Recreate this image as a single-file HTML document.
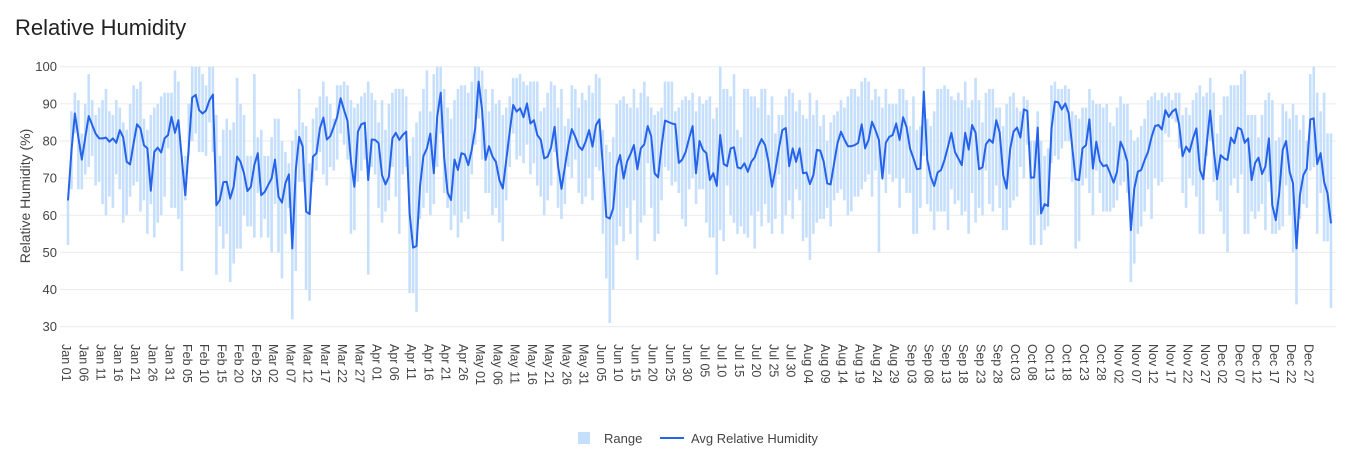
<!DOCTYPE html>
<html><head><meta charset="utf-8">
<style>
body{margin:0;background:#fff;font-family:"Liberation Sans",sans-serif;}
svg text{font-family:"Liberation Sans","DejaVu Sans",sans-serif;}
</style></head>
<body>
<svg id="chart" width="1366" height="461" xmlns="http://www.w3.org/2000/svg">
<text x="15" y="35" font-size="22" fill="#222">Relative Humidity</text>
<text transform="translate(30,196) rotate(-90)" text-anchor="middle" font-size="14" fill="#444">Relative Humidity (%)</text>
<g id="grid"></g><g id="bars"></g><g id="line"></g><g id="xticks"></g><g id="yticks"></g>
<g>
<rect x="578" y="432" width="12" height="12" fill="#c6dffc"/>
<text x="604" y="443" font-size="13" fill="#444">Range</text>
<line x1="660" y1="438" x2="684" y2="438" stroke="#2563eb" stroke-width="2"/>
<text x="691" y="443" font-size="13" fill="#444">Avg Relative Humidity</text>
</g>
</svg>
<script>
const yTicks=[30,40,50,60,70,80,90,100];
const avgValues=[64,77.5,87.4,81,75,81,86.7,84.3,82,80.7,80.7,80.9,79.8,80.7,79.5,82.9,81,74.4,73.7,79.4,84.5,83.4,78.9,78,66.6,77.1,78.2,76.9,80.7,81.6,86.5,82.2,85.6,74.9,65.4,78.5,91.7,92.4,88.3,87.4,88.2,91,92.5,62.7,64.1,68.9,69,64.5,67.7,75.8,74.4,71.3,66.5,67.7,73.5,76.7,65.4,66.3,68.1,69.9,75,
65,63.4,68.6,71,51.1,72.2,81.1,78.5,61,60.3,75.8,76.7,83.4,86.3,80.4,81.3,83.8,86.5,91.5,88.3,85.4,74.4,67.7,82.5,84.5,84.9,69.5,80.4,80.3,79.4,70.8,68.3,70.4,80.7,82.2,80.3,81.6,82.5,60.5,51.3,51.7,67.7,75.9,78,82,71.3,86.5,93,75.8,66.1,64.1,75,72.2,76.7,76.4,73.5,77.6,83.4,96,88.3,74.9,78.6,
75.8,74.4,69.5,67.2,74.9,82.5,89.7,87.9,88.8,86.4,90.1,84.7,85.6,81.6,80.3,75.3,75.8,78.3,83.8,73.5,67.1,73.1,78.9,83.2,81.1,78.6,77.6,79.8,82.9,78.5,84.3,85.8,73.1,59.6,59.1,61.9,73.2,76.2,69.9,74.4,76.5,78.9,72.4,78,79.1,84,81.3,71.3,70.2,78.5,85.5,85.1,84.7,84.5,74.1,75,77.1,80.7,84,71.3,80,77.6,
76.7,69.5,71.3,67.9,81.6,73.8,73.2,78,78.3,72.9,72.6,74,71.7,74.4,75.6,78.5,80.5,78.9,74.4,67.7,72.2,78,82.9,83.5,73.2,78,74.4,78,71.3,71.5,68.4,70.8,77.6,77.4,74.4,68.6,68.3,74,79.4,82.5,80.4,78.6,78.6,78.9,79.5,84.5,78,80.3,85.2,82.9,80.3,69.9,79.5,81.1,81.6,84.7,80.3,86.4,83.8,78,75.3,72.4,72.6,
93.3,74.9,70.4,67.9,71.5,72.2,74.9,78.5,82.2,77.1,75.3,73.5,82.2,77.7,84.3,82.2,72.4,72.9,79.1,80.4,79.5,85.6,82.2,70.8,67.2,77.7,82.5,83.6,80.9,88.5,88.1,70.1,70.2,83.6,60.5,63,62.5,83.4,90.6,90.4,88.5,90.1,87.4,78.5,69.7,69.5,78,78.9,85.8,72.6,79.8,74.6,73.2,73.5,71.3,68.8,71.7,79.8,77.6,74.4,56,
67.2,71.7,72.2,74.9,77.1,81.1,84,84.3,83.1,88.3,86.5,87.9,88.6,84.3,75.9,78.5,77.1,80.7,83.4,72.2,69.7,79.4,88.2,77.6,69.7,76.2,75.3,74.9,80.9,79.4,83.6,83.1,79.5,80.7,69.5,74.1,75.5,71.1,73.1,80.7,62.7,58.7,65.9,77.6,80,71.7,68.6,51.1,65.4,70.8,72.6,85.8,86.1,73.8,76.7,69,65.9,57.8];
const maxValues=[64,88,93,91,82,90,98,91,87,89,91,94,88,87,91,89,85,83,90,95,94,96,86,83,87,89,90,92,93,93,93,99,96,76,76,90,100,100,100,98,95,100,100,87,76,83,86,83,85,97,90,87,76,76,98,81,83,76,76,81,86,
86,80,77,74,80,83,94,85,84,74,86,89,92,96,92,90,86,95,95,96,95,91,89,90,92,93,96,93,91,85,91,83,90,93,94,94,94,92,76,81,85,88,94,99,88,98,100,100,94,89,86,91,94,95,95,93,96,100,100,99,94,88,
94,90,91,87,89,92,97,97,98,96,95,96,96,96,88,89,93,96,95,89,94,84,86,95,94,89,93,91,95,93,98,97,83,79,77,81,90,91,92,90,89,94,89,93,96,92,89,87,88,89,96,96,96,88,89,91,92,91,93,88,92,90,
91,92,86,89,100,94,94,92,98,83,81,94,94,92,92,89,94,94,87,92,82,87,87,92,94,93,88,91,87,86,93,87,91,84,87,80,85,87,88,91,89,92,94,94,92,96,97,96,91,94,92,89,94,90,90,90,94,94,91,84,92,83,84,
100,86,84,88,94,94,95,94,92,91,93,91,96,89,91,97,91,85,93,94,94,89,89,84,90,92,93,89,88,92,91,80,80,88,80,76,78,95,96,94,94,95,94,88,87,86,89,89,94,91,90,90,89,90,85,84,89,92,90,90,83,
80,81,84,86,91,92,93,91,93,92,93,91,93,93,87,89,87,91,93,95,92,93,97,93,82,87,92,92,95,95,95,98,99,87,87,87,81,87,91,93,91,80,81,90,88,86,90,87,83,87,80,98,100,93,88,93,82,82];
const minValues=[52,67,82,67,67,71,73,76,68,69,63,60,65,62,71,67,58,60,65,68,69,61,64,55,63,54,58,60,65,78,62,62,59,45,64,76,80,82,77,77,76,85,77,44,57,51,55,42,47,51,51,60,57,57,54,66,54,59,54,50,63,
50,43,55,62,32,45,69,69,40,37,69,72,77,71,68,73,72,75,82,79,75,55,56,69,72,75,44,73,71,62,58,61,64,73,65,55,71,73,39,39,34,59,62,66,60,63,73,82,66,62,56,60,54,58,61,59,71,79,86,75,66,66,
60,62,58,53,64,73,82,75,76,74,79,71,74,68,65,60,64,68,77,62,59,63,73,70,75,66,63,65,70,64,73,72,55,43,31,40,52,57,53,62,55,64,48,58,60,74,62,53,55,64,73,72,68,69,66,59,57,67,70,63,67,67,
58,54,54,44,56,53,68,60,58,55,57,55,54,60,51,61,57,63,58,55,59,71,55,60,64,59,67,64,53,54,48,55,58,59,59,62,57,64,66,67,64,60,61,65,65,67,69,71,65,72,50,72,66,71,69,70,62,70,66,66,55,55,62,
76,63,61,56,61,61,61,56,67,63,64,60,61,55,66,58,62,60,72,63,61,68,62,56,56,62,64,65,73,70,79,52,52,60,52,56,57,74,76,75,78,80,80,69,51,53,68,70,66,60,72,66,61,61,61,62,64,68,69,66,42,
47,55,57,61,67,59,70,68,69,82,81,86,85,78,66,62,70,68,65,55,55,76,80,69,64,61,55,50,68,70,66,71,55,55,61,59,61,63,56,69,55,55,56,57,68,60,50,36,59,63,62,72,73,55,66,53,53,35];
const NS="http://www.w3.org/2000/svg";
const X0=68,X1=1331,Y100=66.7,PX10=37.14;
function xScale(i){return X0+i*(X1-X0)/(avgValues.length-1);}
function yScale(v){return Y100+(100-v)*PX10/10;}
function mk(tag,attrs,parent){const e=document.createElementNS(NS,tag);for(const k in attrs)e.setAttribute(k,attrs[k]);parent.appendChild(e);return e;}
const grid=document.getElementById('grid'),yt=document.getElementById('yticks');
yTicks.forEach(v=>{
  const l=mk('line',{x1:60,x2:1336,y1:yScale(v),y2:yScale(v),stroke:'#ebebeb','stroke-width':1},grid);
  
  
  const t=mk('text',{x:57,y:yScale(v)+4.5,'text-anchor':'end','font-size':13,fill:'#444'},yt);
  t.textContent=v;
  
  
});
const bars=document.getElementById('bars');
for(let i=0;i<avgValues.length;i++){
  const y1=yScale(maxValues[i]),y2=yScale(minValues[i]);
  const r=mk('rect',{x:xScale(i)-1.3,y:y1,width:2.6,height:Math.max(1,y2-y1),fill:'#c6dffc'},bars);
  
  
}
const pts=avgValues.map((v,i)=>xScale(i).toFixed(1)+','+yScale(v).toFixed(1)).join(' ');
const pl=mk('polyline',{points:pts,fill:'none',stroke:'#2563eb','stroke-width':2,'stroke-linejoin':'round'},document.getElementById('line'));


const months=['Jan','Feb','Mar','Apr','May','Jun','Jul','Aug','Sep','Oct','Nov','Dec'];
const xt=document.getElementById('xticks');
for(let d=0;d<=360;d+=5){
  const dt=new Date(Date.UTC(2023,0,1+d));
  const lab=months[dt.getUTCMonth()]+' '+String(dt.getUTCDate()).padStart(2,'0');
  const x=xScale(d)-1.5;
  const t=mk('text',{transform:'translate('+x+',344) rotate(90)','font-size':12.5,fill:'#444',y:4.5},xt);
  t.textContent=lab;
  
  
}
</script>
</body></html>
